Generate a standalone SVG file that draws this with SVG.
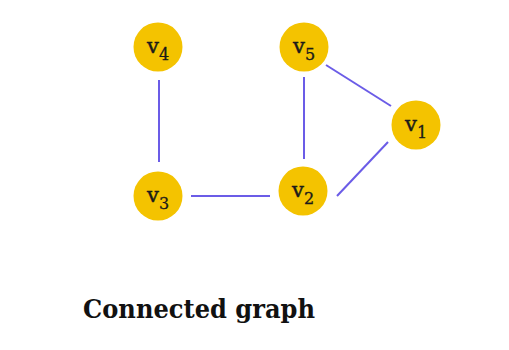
<svg xmlns="http://www.w3.org/2000/svg" width="509" height="350" viewBox="0 0 509 350">
  <style>
    .edge { stroke: #6b5ce7; stroke-width: 2; stroke-linecap: butt; fill: none; }
    .node circle { fill: #f4c300; }
    .lbl { font-family: "DejaVu Serif", "Liberation Serif", serif; font-size: 21px; fill: #1a1a1a; stroke: #1a1a1a; stroke-width: 0.5; }
    .sub { font-size: 16px; stroke-width: 0.3; }
    .title { font-family: "DejaVu Serif", "Liberation Serif", serif; font-weight: bold; font-size: 26px; fill: #111; }
  </style>
  <rect width="509" height="350" fill="#ffffff"/>
  <g id="edges">
    <line class="edge" x1="159" y1="80" x2="159" y2="162"/>
    <line class="edge" x1="304" y1="77" x2="304" y2="159"/>
    <line class="edge" x1="191" y1="196" x2="270" y2="196"/>
    <line class="edge" x1="326" y1="65" x2="391" y2="106"/>
    <line class="edge" x1="337" y1="196" x2="388" y2="142"/>
  </g>
  <g id="v4" class="node">
    <circle cx="158" cy="47" r="24.5"/>
    <text class="lbl" x="147" y="53">v<tspan class="sub" dy="7">4</tspan></text>
  </g>
  <g id="v5" class="node">
    <circle cx="304" cy="47" r="24.5"/>
    <text class="lbl" x="293" y="53">v<tspan class="sub" dy="7">5</tspan></text>
  </g>
  <g id="v1" class="node">
    <circle cx="416" cy="125" r="24.5"/>
    <text class="lbl" x="405" y="131">v<tspan class="sub" dy="7">1</tspan></text>
  </g>
  <g id="v3" class="node">
    <circle cx="158" cy="196" r="24.5"/>
    <text class="lbl" x="147" y="202">v<tspan class="sub" dy="7">3</tspan></text>
  </g>
  <g id="v2" class="node">
    <circle cx="303" cy="191" r="24.5"/>
    <text class="lbl" x="292" y="197">v<tspan class="sub" dy="7">2</tspan></text>
  </g>
  <text class="title" x="83" y="318" textLength="232" lengthAdjust="spacingAndGlyphs">Connected graph</text>
</svg>
